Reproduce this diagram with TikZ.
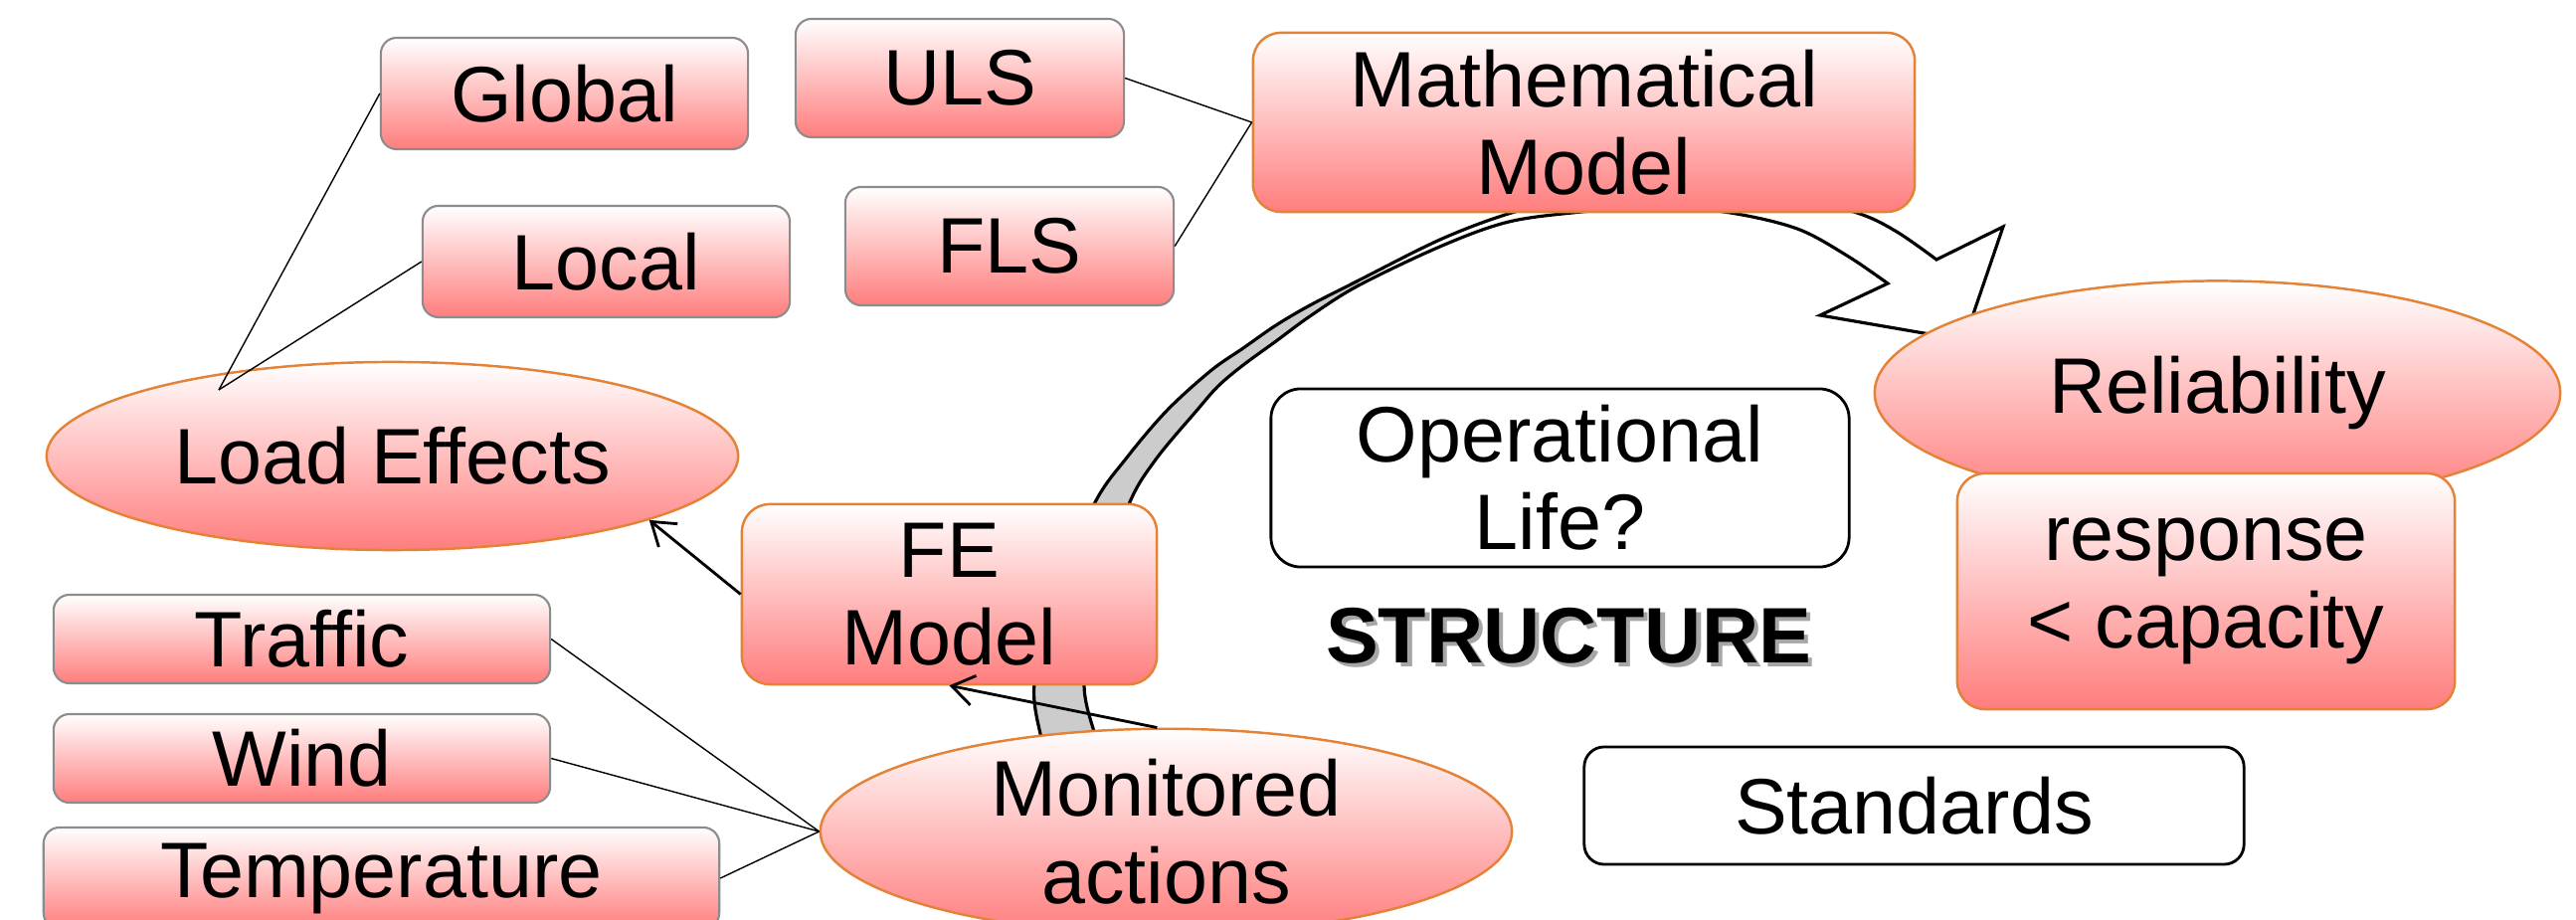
\documentclass[tikz,border=0pt]{standalone}
\usepackage{fontspec}
\setmainfont{Liberation Sans}
\usetikzlibrary{shapes.geometric,arrows.meta}
\definecolor{pinkB}{RGB}{255,125,125}
\definecolor{orgB}{RGB}{228,130,55}
\definecolor{grB}{RGB}{140,140,140}
\definecolor{arcG}{RGB}{204,204,204}
\def\bigarcpath{plot[smooth, tension=0.55] coordinates {(1055,775) (1047,743) (1040,687) (1062,600) (1100,507) (1133,460) (1173,413) (1217,373) (1250,350) (1283,327) (1317,307) (1364,283) (1450,240) (1523,213) (1600,196) (1700,188) (1790,195) (1867,214) (1907,233) (1947,261)}
  -- (2014,228) -- (1975,342) -- (1830,317) -- (1898,285)
  -- plot[smooth, tension=0.55] coordinates {(1898,285) (1857,257) (1807,230) (1740,214) (1665,207) (1590,213) (1517,223) (1450,247) (1366,287) (1317,318) (1283,343) (1250,367) (1225,388) (1203,413) (1162,462) (1135,507) (1103,600) (1090,687) (1102,743) (1110,775)} -- cycle}
\begin{document}
\begin{tikzpicture}[x=0.01cm,y=-0.01cm,
  every node/.style={font=\fontsize{22.5}{25}\selectfont, align=center, inner sep=0pt},
  gbox/.style={rectangle, rounded corners=0.16cm, draw=grB, line width=0.6pt, top color=white, bottom color=pinkB},
  obox/.style={rectangle, rounded corners=0.28cm, draw=orgB, line width=0.7pt, top color=white, bottom color=pinkB},
  oell/.style={ellipse, draw=orgB, line width=0.7pt, top color=white, bottom color=pinkB},
  wbox/.style={rectangle, rounded corners=0.3cm, draw=black, line width=0.8pt, fill=white},
  thinline/.style={line width=0.4pt},
  flowarrow/.style={line width=0.8pt, -{Straight Barb[length=0.22cm,width=0.3cm]}},
  arcline/.style={line width=0.9pt, line join=miter}]
\useasboundingbox (0,0) rectangle (2590,925);
\clip (0,0) rectangle (2590,925);

% big curved arrow (behind everything)
\fill[white] \bigarcpath;
\begin{scope}
  \clip (0,0) rectangle (1366,925);
  \fill[arcG] \bigarcpath;
\end{scope}
\draw[arcline] \bigarcpath;

% nodes
\node[gbox, minimum width=3.69cm, minimum height=1.12cm] (global) at (567.5,94) {Global};
\node[gbox, minimum width=3.30cm, minimum height=1.19cm] (uls) at (965,78.5) {ULS};
\node[gbox, minimum width=3.69cm, minimum height=1.12cm] (local) at (609.5,263) {Local};
\node[gbox, minimum width=3.30cm, minimum height=1.19cm] (fls) at (1015,247.5) {FLS};
\node[obox, minimum width=6.65cm, minimum height=1.80cm] (math) at (1592.5,123) {Mathematical\\Model};
\node[oell, minimum width=6.95cm, minimum height=1.89cm] (load) at (394.5,458.5) {Load Effects};
\node[oell, minimum width=6.89cm, minimum height=2.25cm] (rel) at (2229.5,395) {Reliability};
\node[obox, minimum width=5.0cm, minimum height=2.37cm] (resp) at (2218,594.5) {response\\< capacity};
\node[wbox, minimum width=5.81cm, minimum height=1.79cm] (oper) at (1568.5,480.5) {Operational\\Life?};
\node[font=\fontsize{22.5}{25}\selectfont\bfseries] (struct) at (1577,641) {\rlap{\hspace{1.2pt}\raisebox{-1.2pt}{\textcolor{black!35}{STRUCTURE}}}STRUCTURE};
\node[obox, minimum width=4.17cm, minimum height=1.81cm] (fe) at (954.5,597.5) {FE\\Model};
\node[gbox, minimum width=4.99cm, minimum height=0.89cm] (traffic) at (303.5,642.5) {Traffic};
\node[gbox, minimum width=4.99cm, minimum height=0.89cm] (wind) at (303.5,762.5) {Wind};
\node[gbox, minimum width=6.79cm, minimum height=1.02cm] (temp) at (383.5,883) {Temperature};
\node[oell, minimum width=6.95cm, minimum height=1.88cm] (mon) at (1172.5,836) {Monitored\\actions};
\node[wbox, rounded corners=0.2cm, minimum width=6.63cm, minimum height=1.18cm] (std) at (1924.5,810) {Standards};

% connectors
\coordinate (lej) at (220,392);
\draw[thinline] (global.west) -- (lej);
\draw[thinline] (local.west) -- (lej);
\draw[thinline] (uls.east) -- (math.west);
\draw[thinline] (fls.east) -- (math.west);
\draw[flowarrow] (fe.west) -- (load.-14);
\draw[flowarrow] (mon.95) -- (fe.south);
\draw[thinline] (traffic.east) -- (mon.west);
\draw[thinline] (wind.east) -- (mon.west);
\draw[thinline] (temp.east) -- (mon.west);
\end{tikzpicture}
\end{document}
